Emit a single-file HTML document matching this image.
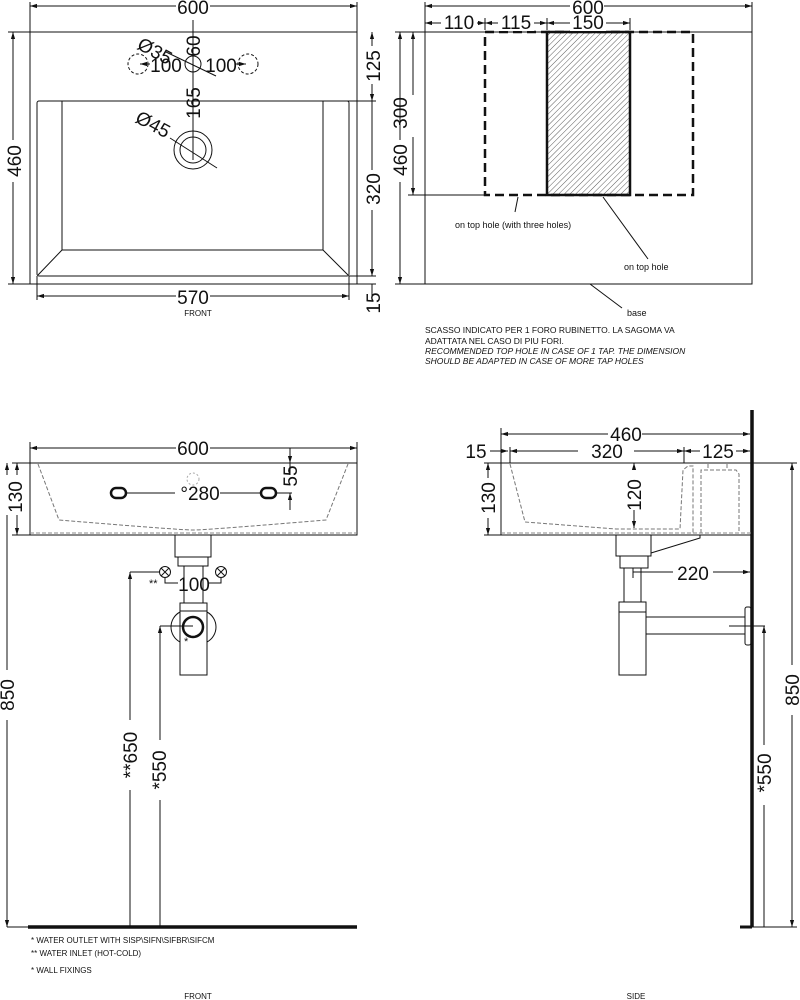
<!DOCTYPE html>
<html><head><meta charset="utf-8"><style>
html,body{margin:0;padding:0;background:#fff}
svg{display:block}
text{font-family:"Liberation Sans",sans-serif;fill:#111}
.d{font-size:19px}
.s{font-size:8.5px}
</style></head><body>
<svg width="800" height="1000" viewBox="0 0 800 1000" xmlns="http://www.w3.org/2000/svg">
<defs>
<marker id="a" viewBox="0 0 10 10" refX="10" refY="5" markerWidth="7" markerHeight="7" orient="auto-start-reverse"><path d="M0,2 L10,5 L0,8z" fill="#111"/></marker>
<pattern id="h" width="4" height="4" patternUnits="userSpaceOnUse" patternTransform="rotate(45)"><line x1="0" y1="0" x2="0" y2="4" stroke="#333" stroke-width="0.8"/></pattern>
</defs>
<g stroke="#111" stroke-width="1" fill="none">
<!-- TOP LEFT -->
<rect x="30" y="32" width="327" height="252"/>
<line x1="30" y1="2" x2="30" y2="32"/><line x1="357" y1="2" x2="357" y2="32"/>
<line x1="30" y1="6" x2="357" y2="6" marker-start="url(#a)" marker-end="url(#a)"/>
<line x1="8" y1="32" x2="30" y2="32"/><line x1="8" y1="284" x2="30" y2="284"/>
<line x1="13" y1="32" x2="13" y2="284" marker-start="url(#a)" marker-end="url(#a)"/>
<rect x="37" y="101" width="312" height="175" rx="2"/>
<rect x="62" y="101" width="261" height="149"/>
<line x1="62" y1="250" x2="38" y2="275"/><line x1="323" y1="250" x2="348" y2="275"/>
<line x1="37" y1="276" x2="37" y2="300"/><line x1="349" y1="276" x2="349" y2="300"/>
<line x1="37" y1="296" x2="349" y2="296" marker-start="url(#a)" marker-end="url(#a)"/>
<line x1="343" y1="101" x2="376" y2="101"/><line x1="349" y1="276" x2="376" y2="276"/><line x1="357" y1="284" x2="376" y2="284"/>
<line x1="372" y1="32" x2="372" y2="101" marker-start="url(#a)" marker-end="url(#a)"/>
<line x1="372" y1="101" x2="372" y2="276" marker-end="url(#a)"/>
<line x1="372" y1="284" x2="372" y2="300"/>
<line x1="193" y1="20" x2="193" y2="160"/>
<circle cx="193" cy="64" r="8"/>
<circle cx="138" cy="64" r="10" stroke-dasharray="3,2"/><circle cx="248" cy="64" r="10" stroke-dasharray="3,2"/>
<line x1="140" y1="64" x2="150" y2="64" marker-start="url(#a)"/><line x1="236" y1="64" x2="246" y2="64" marker-end="url(#a)"/>
<line x1="166" y1="52" x2="216" y2="76"/>
<circle cx="193" cy="150" r="19"/><circle cx="193" cy="150" r="13"/>
<line x1="170" y1="138" x2="217" y2="168"/>
<!-- TOP RIGHT -->
<rect x="425" y="32" width="327" height="252"/>
<line x1="425" y1="2" x2="425" y2="32"/><line x1="752" y1="2" x2="752" y2="32"/>
<line x1="425" y1="6" x2="752" y2="6" marker-start="url(#a)" marker-end="url(#a)"/>
<line x1="425" y1="18" x2="425" y2="30"/><line x1="485" y1="18" x2="485" y2="30"/><line x1="547" y1="18" x2="547" y2="30"/><line x1="630" y1="18" x2="630" y2="30"/>
<line x1="425" y1="23" x2="485" y2="23" marker-start="url(#a)" marker-end="url(#a)"/>
<line x1="485" y1="23" x2="547" y2="23" marker-start="url(#a)" marker-end="url(#a)"/>
<line x1="547" y1="23" x2="630" y2="23" marker-start="url(#a)" marker-end="url(#a)"/>
<line x1="395" y1="32" x2="425" y2="32"/><line x1="395" y1="284" x2="437" y2="284"/>
<line x1="400" y1="32" x2="400" y2="284" marker-start="url(#a)" marker-end="url(#a)"/>
<line x1="413" y1="32" x2="413" y2="195" marker-start="url(#a)" marker-end="url(#a)"/>
<line x1="408" y1="195" x2="485" y2="195"/>
<rect x="485" y="32" width="208" height="163" stroke-width="2.5" stroke-dasharray="9,5"/>
<rect x="547" y="32" width="83" height="163" stroke-width="2.5" fill="url(#h)"/>
<line x1="518" y1="197" x2="515" y2="212"/>
<line x1="603" y1="197" x2="648" y2="259"/>
<line x1="590" y1="284" x2="622" y2="308"/>
<!-- BOTTOM LEFT -->
<line x1="30" y1="442" x2="30" y2="463"/><line x1="357" y1="442" x2="357" y2="463"/>
<line x1="30" y1="448" x2="357" y2="448" marker-start="url(#a)" marker-end="url(#a)"/>
<path d="M30,463 L357,463 L357,535 L30,535 Z"/>
<path d="M38,464 L59,520 Q180,530 193,530 Q206,530 326,520 L348,464" stroke="#777" stroke-dasharray="4,2"/>
<line x1="30" y1="533" x2="357" y2="533" stroke="#888" stroke-dasharray="4,2"/>
<line x1="12" y1="463" x2="30" y2="463"/><line x1="12" y1="535" x2="30" y2="535"/>
<line x1="17" y1="463" x2="17" y2="535" marker-start="url(#a)" marker-end="url(#a)"/>
<line x1="7" y1="463" x2="7" y2="927" marker-start="url(#a)" marker-end="url(#a)"/>
<line x1="7" y1="927" x2="28" y2="927"/>
<circle cx="193" cy="479" r="6" stroke="#aaa" stroke-dasharray="2,2"/>
<rect x="111" y="488" width="15" height="10" rx="5" stroke-width="2.5"/>
<rect x="261" y="488" width="15" height="10" rx="5" stroke-width="2.5"/>
<line x1="126" y1="493" x2="175" y2="493"/><line x1="212" y1="493" x2="261" y2="493"/>
<line x1="290" y1="448" x2="290" y2="463" marker-end="url(#a)"/>
<line x1="290" y1="510" x2="290" y2="493" marker-end="url(#a)"/>
<line x1="290" y1="463" x2="290" y2="475"/>
<line x1="276" y1="493" x2="292" y2="493"/>
<rect x="175" y="535" width="36" height="22"/>
<rect x="178" y="557" width="30" height="9"/>
<rect x="184" y="566" width="19" height="37"/>
<rect x="180" y="603" width="27" height="8"/>
<rect x="180" y="611" width="27" height="64"/>
<path d="M180,612 A17,17 0 0 0 180,642 M207,612 A17,17 0 0 1 207,642"/>
<circle cx="193" cy="627" r="10" stroke-width="2.5"/>
<circle cx="165" cy="572" r="5.5"/><path d="M161,568 L169,576 M169,568 L161,576"/>
<circle cx="221" cy="572" r="5.5"/><path d="M217,568 L225,576 M225,568 L217,576"/>
<path d="M165,578 L165,583 L178,583" /><path d="M221,578 L221,583 L209,583"/>
<line x1="130" y1="572" x2="159" y2="572"/>
<line x1="130" y1="927" x2="130" y2="572" marker-end="url(#a)"/>
<line x1="160" y1="626" x2="193" y2="626"/>
<line x1="160" y1="927" x2="160" y2="626" marker-end="url(#a)"/>
<line x1="28" y1="927" x2="357" y2="927" stroke-width="3.5"/>
<!-- BOTTOM RIGHT -->
<line x1="752" y1="410" x2="752" y2="927" stroke-width="3.5"/>
<line x1="740" y1="927" x2="752" y2="927" stroke-width="3"/>
<line x1="501" y1="428" x2="501" y2="463"/>
<line x1="501" y1="434" x2="750" y2="434" marker-start="url(#a)" marker-end="url(#a)"/>
<line x1="510" y1="447" x2="510" y2="463"/><line x1="684" y1="447" x2="684" y2="463"/>
<line x1="510" y1="451" x2="684" y2="451" marker-start="url(#a)" marker-end="url(#a)"/>
<line x1="684" y1="451" x2="750" y2="451" marker-start="url(#a)" marker-end="url(#a)"/>
<line x1="490" y1="451" x2="508" y2="451" marker-end="url(#a)"/>
<path d="M501,463 L752,463 M501,463 L501,535 L752,535"/>
<line x1="484" y1="463" x2="501" y2="463"/><line x1="484" y1="535" x2="501" y2="535"/>
<line x1="488" y1="463" x2="488" y2="535" marker-start="url(#a)" marker-end="url(#a)"/>
<line x1="634" y1="463" x2="634" y2="528" marker-start="url(#a)" marker-end="url(#a)"/>
<path d="M510,464 L525,522 L616,529 L680,529 L683,470 L688,466 L693,466 L693,533" stroke="#777" stroke-dasharray="4,2"/>
<path d="M701,533 L701,470 L736,470 L739,474 L739,533 M708,464 L708,470 M727,464 L727,470" stroke="#777" stroke-dasharray="4,2"/>
<line x1="501" y1="533" x2="752" y2="533" stroke="#888" stroke-dasharray="4,2"/>
<path d="M651,553 L700,538 L700,535"/>
<rect x="616" y="535" width="35" height="21"/>
<rect x="620" y="556" width="28" height="12"/>
<rect x="624" y="568" width="17" height="34"/>
<rect x="619" y="602" width="27" height="10"/>
<rect x="619" y="612" width="27" height="63"/>
<rect x="646" y="617" width="99" height="17"/>
<rect x="745" y="607" width="6" height="38" rx="2"/>
<line x1="633" y1="568" x2="633" y2="578"/>
<line x1="633" y1="572" x2="750" y2="572" marker-end="url(#a)"/>
<line x1="729" y1="626" x2="765" y2="626"/>
<line x1="752" y1="463" x2="797" y2="463"/>
<line x1="792" y1="463" x2="792" y2="927" marker-start="url(#a)" marker-end="url(#a)"/>
<line x1="764" y1="927" x2="764" y2="626" marker-end="url(#a)"/>
<line x1="752" y1="927" x2="797" y2="927"/>
</g>
<g fill="#fff" stroke="none">
<rect x="176" y="-2" width="34" height="16"/><rect x="0" y="140" width="26" height="42"/><rect x="362" y="46" width="20" height="38"/><rect x="362" y="170" width="20" height="40"/>
<rect x="176" y="288" width="34" height="16"/>
<rect x="570" y="-2" width="34" height="16"/><rect x="441" y="15" width="36" height="16"/><rect x="498" y="15" width="36" height="16"/><rect x="570" y="15" width="36" height="16"/>
<rect x="390" y="140" width="20" height="42"/><rect x="403" y="95" width="20" height="42"/>
<rect x="176" y="440" width="34" height="16"/><rect x="178" y="487" width="42" height="14"/>
<rect x="0" y="475" width="24" height="40"/><rect x="0" y="670" width="16" height="50"/>
<rect x="120" y="720" width="20" height="70"/><rect x="150" y="740" width="20" height="60"/>
<rect x="608" y="426" width="34" height="16"/><rect x="578" y="443" width="56" height="16"/><rect x="700" y="443" width="36" height="16"/>
<rect x="478" y="478" width="22" height="40"/><rect x="624" y="470" width="22" height="40"/>
<rect x="673" y="564" width="40" height="16"/>
<rect x="782" y="665" width="20" height="50"/><rect x="754" y="745" width="20" height="60"/>
</g>
<g class="d">
<text x="193" y="14" text-anchor="middle">600</text>
<text transform="translate(21,161) rotate(-90)" text-anchor="middle">460</text>
<text transform="translate(380,66) rotate(-90)" text-anchor="middle">125</text>
<text transform="translate(380,189) rotate(-90)" text-anchor="middle">320</text>
<text transform="translate(380,303) rotate(-90)" text-anchor="middle">15</text>
<text x="193" y="304" text-anchor="middle">570</text>
<text transform="translate(143,52) rotate(28)" text-anchor="middle" x="10">Ø35</text>
<text transform="translate(200,46) rotate(-90)" text-anchor="middle">60</text>
<text x="166" y="72" text-anchor="middle">100</text>
<text x="221" y="72" text-anchor="middle">100</text>
<text transform="translate(200,103) rotate(-90)" text-anchor="middle">165</text>
<text transform="translate(150,130) rotate(28)" text-anchor="middle">Ø45</text>
<text x="588" y="14" text-anchor="middle">600</text>
<text x="459" y="29" text-anchor="middle">110</text>
<text x="516" y="29" text-anchor="middle">115</text>
<text x="588" y="29" text-anchor="middle">150</text>
<text transform="translate(407,113) rotate(-90)" text-anchor="middle">300</text>
<text transform="translate(407,160) rotate(-90)" text-anchor="middle">460</text>
<text x="193" y="455" text-anchor="middle">600</text>
<text x="200" y="500" text-anchor="middle">°280</text>
<text transform="translate(297,476) rotate(-90)" text-anchor="middle">55</text>
<text transform="translate(22,497) rotate(-90)" text-anchor="middle">130</text>
<text transform="translate(14,695) rotate(-90)" text-anchor="middle">850</text>
<text transform="translate(137,755) rotate(-90)" text-anchor="middle">**650</text>
<text transform="translate(166,770) rotate(-90)" text-anchor="middle">*550</text>
<text x="194" y="591" text-anchor="middle">100</text>
<text x="626" y="441" text-anchor="middle">460</text>
<text x="607" y="458" text-anchor="middle">320</text>
<text x="718" y="458" text-anchor="middle">125</text>
<text x="476" y="458" text-anchor="middle">15</text>
<text transform="translate(495,498) rotate(-90)" text-anchor="middle">130</text>
<text transform="translate(641,495) rotate(-90)" text-anchor="middle">120</text>
<text x="693" y="580" text-anchor="middle">220</text>
<text transform="translate(799,690) rotate(-90)" text-anchor="middle">850</text>
<text transform="translate(771,773) rotate(-90)" text-anchor="middle">*550</text>
</g>
<g class="s">
<text x="198" y="316" text-anchor="middle" font-size="8">FRONT</text>
<text x="455" y="228" font-size="9">on top hole (with three holes)</text>
<text x="624" y="270" font-size="9">on top hole</text>
<text x="627" y="316" font-size="9">base</text>
<text x="425" y="333">SCASSO INDICATO PER 1 FORO RUBINETTO. LA SAGOMA VA</text>
<text x="425" y="344">ADATTATA NEL CASO DI PIU FORI.</text>
<text x="425" y="354" font-style="italic">RECOMMENDED TOP HOLE IN CASE OF 1 TAP. THE DIMENSION</text>
<text x="425" y="364" font-style="italic">SHOULD BE ADAPTED IN CASE OF MORE TAP HOLES</text>
<text x="31" y="943" font-size="8">*  WATER OUTLET WITH SISP\SIFN\SIFBR\SIFCM</text>
<text x="31" y="956" font-size="8">** WATER INLET  (HOT-COLD)</text>
<text x="31" y="973" font-size="8">* WALL FIXINGS</text>
<text x="198" y="999" text-anchor="middle" font-size="8">FRONT</text>
<text x="636" y="999" text-anchor="middle" font-size="8">SIDE</text>
<text x="149" y="587" font-size="11">**</text>
<text x="184" y="645" font-size="11">*</text>
</g>
</svg>
</body></html>
